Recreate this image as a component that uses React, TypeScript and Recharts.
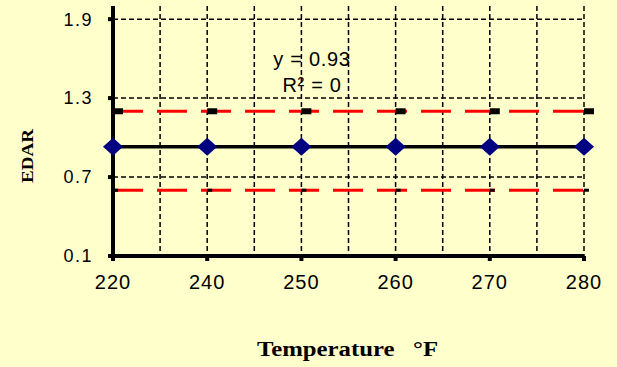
import React from 'react';
import { LineChart, Line, XAxis, YAxis, CartesianGrid } from 'recharts';

// temperature categories (°F), evenly spaced on the axis as in the original sheet
const temperatures = ['220', '240', '250', '260', '270', '280'];
const edarMean = [0.93, 0.93, 0.93, 0.93, 0.93, 0.93];
const upperLimit = [1.2, 1.2, 1.2, 1.2, 1.2, 1.2];
const lowerLimit = [0.6, 0.6, 0.6, 0.6, 0.6, 0.6];
const yTicks = [0.1, 0.7, 1.3, 1.9];
const xTicks = [0, 1, 2, 3, 4, 5];
const gridSteps = [0, 0.5, 1, 1.5, 2, 2.5, 3, 3.5, 4, 4.5, 5];

const data = temperatures.map((t, i) => ({
  pos: i,
  temp: t,
  mean: edarMean[i],
  upper: upperLimit[i],
  lower: lowerLimit[i],
}));

const sans = '"Liberation Sans", Arial, sans-serif';
const serif = '"Liberation Serif", "Times New Roman", serif';

const Diamond = (props: any) => {
  const { cx, cy, index } = props;
  if (cx == null || cy == null) return null;
  return (
    <polygon
      key={`d-${index}`}
      points={`${cx - 10},${cy} ${cx},${cy - 9} ${cx + 10},${cy} ${cx},${cy + 9}`}
      fill="#000080"
    />
  );
};

const UpperMark = (props: any) => {
  const { cx, cy, index } = props;
  if (cx == null || cy == null) return null;
  return <rect key={`u-${index}`} x={cx} y={cy - 3} width={10} height={6} fill="#000" />;
};

const LowerMark = (props: any) => {
  const { cx, cy, index } = props;
  if (cx == null || cy == null) return null;
  return <rect key={`l-${index}`} x={cx} y={cy - 1.5} width={5} height={3} fill="#000" />;
};

export default function App() {
  return (
    <div style={{ position: 'absolute', left: 0, top: 0, width: 617, height: 367, background: '#FFFFCC' }}>
      <LineChart width={617} height={367} data={data} margin={{ top: 6, right: 33, bottom: 81, left: 53 }}>
        <CartesianGrid
          stroke="#000"
          strokeWidth={1.5}
          strokeDasharray="5 3"
          verticalCoordinatesGenerator={({ xAxis, offset }: any) =>
            gridSteps.map((v) =>
              xAxis && typeof xAxis.scale === 'function' ? xAxis.scale(v) : offset.left + (v / 5) * offset.width
            )
          }
          horizontalCoordinatesGenerator={({ yAxis, offset }: any) =>
            yTicks.map((v) =>
              yAxis && typeof yAxis.scale === 'function'
                ? yAxis.scale(v)
                : offset.top + ((2.0 - v) / 1.9) * offset.height
            )
          }
        />
        <XAxis
          type="number"
          dataKey="pos"
          domain={[0, 5]}
          ticks={xTicks}
          tickFormatter={(i: number) => temperatures[i]}
          height={30}
          tickSize={5}
          tickMargin={14}
          axisLine={{ stroke: '#000', strokeWidth: 4 }}
          tickLine={{ stroke: '#000', strokeWidth: 4 }}
          tick={{ fill: '#000', fontSize: 20, fontFamily: sans, letterSpacing: 1 }}
        />
        <YAxis
          type="number"
          domain={[0.1, 2.0]}
          ticks={yTicks}
          tickFormatter={(v: number) => v.toFixed(1)}
          width={60}
          tickSize={5}
          tickMargin={15}
          axisLine={{ stroke: '#000', strokeWidth: 4 }}
          tickLine={{ stroke: '#000', strokeWidth: 4 }}
          tick={{ fill: '#000', fontSize: 18, fontFamily: sans, letterSpacing: 1.5 }}
        />
        <Line
          dataKey="upper"
          stroke="#FF0000"
          strokeWidth={3}
          strokeDasharray="30 14"
          dot={<UpperMark />}
          activeDot={false}
          isAnimationActive={false}
        />
        <Line
          dataKey="lower"
          stroke="#FF0000"
          strokeWidth={3}
          strokeDasharray="30 14"
          dot={<LowerMark />}
          activeDot={false}
          isAnimationActive={false}
        />
        <Line
          dataKey="mean"
          stroke="#000"
          strokeWidth={3.5}
          dot={<Diamond />}
          activeDot={false}
          isAnimationActive={false}
        />
        <text x={312} y={66} textAnchor="middle" fontFamily={sans} fontSize={20} letterSpacing={0.7} fill="#000">
          y = 0.93
        </text>
        <text x={312} y={92} textAnchor="middle" fontFamily={sans} fontSize={20} letterSpacing={0.7} fill="#000">
          R² = 0
        </text>
        <text
          transform="translate(33,156) rotate(-90)"
          textAnchor="middle"
          fontFamily={serif}
          fontWeight="bold"
          fontSize={17}
          textLength={54}
          lengthAdjust="spacingAndGlyphs"
          fill="#000"
        >
          EDAR
        </text>
        <text
          x={257}
          y={356}
          fontFamily={serif}
          fontWeight="bold"
          fontSize={20}
          textLength={181}
          lengthAdjust="spacingAndGlyphs"
          fill="#000"
          style={{ whiteSpace: 'pre' }}
        >
          {'Temperature   °F'}
        </text>
      </LineChart>
    </div>
  );
}
